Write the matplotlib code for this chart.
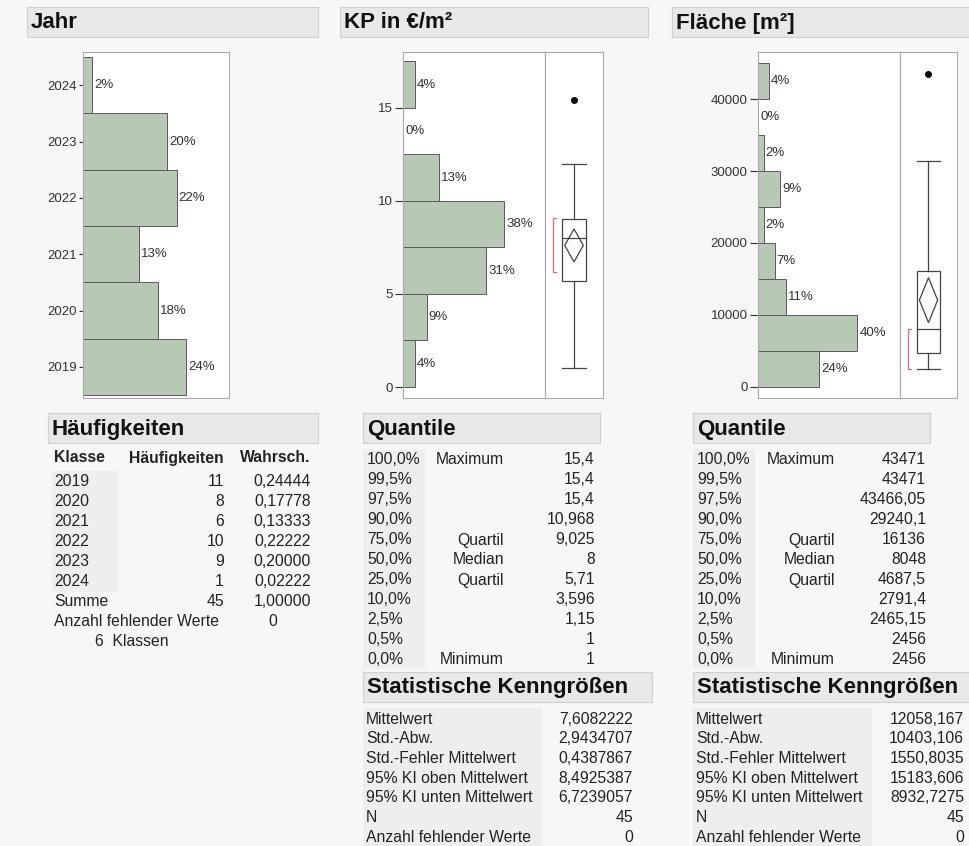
import matplotlib
matplotlib.use('Agg')
import matplotlib.pyplot as plt
from matplotlib.patches import Rectangle, Polygon

plt.rcParams['font.family'] = ['Liberation Sans', 'DejaVu Sans']

W, H = 970, 846
GREEN = '#b7c9b5'
FRAME = '#a8a8a8'
TXT = '#222222'

# ---------------- data ----------------
years = ['2019', '2020', '2021', '2022', '2023', '2024']
year_counts = [11, 8, 6, 10, 9, 1]
n_missing = 0

kp_edges = [0, 2.5, 5, 7.5, 10, 12.5, 15, 17.5]
kp_counts = [2, 4, 14, 17, 6, 0, 2]
kp_box = [1, 5.71, 8, 9.025, 12.0]          # whisker lo, Q1, median, Q3, whisker hi
kp_outliers = [15.4]
kp_mean_ci = [7.6082222, 6.7239057, 8.4925387]
kp_short_half = [6.2, 9.1]

fl_edges = [0, 5000, 10000, 15000, 20000, 25000, 30000, 35000, 40000, 45000]
fl_counts = [11, 18, 5, 3, 1, 4, 1, 0, 2]
fl_box = [2456, 4687.5, 8048, 16136, 31400]
fl_outliers = [43471]
fl_mean_ci = [12058.167, 8932.7275, 15183.606]
fl_short_half = [2456, 8000]

q_levels = ['100,0%', '99,5%', '97,5%', '90,0%', '75,0%', '50,0%', '25,0%',
            '10,0%', '2,5%', '0,5%', '0,0%']
q_names = ['Maximum', '', '', '', 'Quartil', 'Median', 'Quartil', '', '', '', 'Minimum']
kp_quant = ['15,4', '15,4', '15,4', '10,968', '9,025', '8', '5,71', '3,596', '1,15', '1', '1']
fl_quant = ['43471', '43471', '43466,05', '29240,1', '16136', '8048', '4687,5',
            '2791,4', '2465,15', '2456', '2456']

stat_names = ['Mittelwert', 'Std.-Abw.', 'Std.-Fehler Mittelwert', '95% KI oben Mittelwert',
              '95% KI unten Mittelwert', 'N', 'Anzahl fehlender Werte']
kp_stats = ['7,6082222', '2,9434707', '0,4387867', '8,4925387', '6,7239057', '45', '0']
fl_stats = ['12058,167', '10403,106', '1550,8035', '15183,606', '8932,7275', '45', '0']

N = sum(year_counts)

fig = plt.figure(figsize=(9.7, 8.46), dpi=100, facecolor='#f7f7f7')

# background axes in pixel coordinates
bg = fig.add_axes([0, 0, 1, 1])
bg.set_xlim(0, W)
bg.set_ylim(H, 0)
bg.axis('off')


def ax_px(x0, y0, x1, y1):
    return fig.add_axes([x0 / W, 1 - y1 / H, (x1 - x0) / W, (y1 - y0) / H])


def header(x0, x1, y0, y1, text, tx=None):
    bg.add_patch(Rectangle((x0, y0), x1 - x0, y1 - y0, fc='#e8e8e8', ec='#d0d0d0', lw=0.8))
    bg.text(tx if tx else x0 + 4, (y0 + y1) / 2 + 1, text, fontsize=16, fontweight='bold',
            va='center', ha='left', color='#111111')


def shade(x0, x1, y0, y1):
    bg.add_patch(Rectangle((x0, y0), x1 - x0, y1 - y0, fc='#eeeeee', ec='none'))


def style(ax, length=5.5, pad=2):
    ax.set_facecolor('white')
    for s in ax.spines.values():
        s.set_color(FRAME)
        s.set_linewidth(0.8)
    ax.tick_params(axis='y', length=length, pad=pad, labelsize=9.5, colors='#333333',
                   width=0.8)
    ax.set_xticks([])


def hist_panel(rect, edges, counts, ylim, xmax, yticks):
    ax = ax_px(*rect)
    style(ax)
    bottoms = edges[:-1]
    heights = [b - a for a, b in zip(edges[:-1], edges[1:])]
    ax.barh(bottoms, counts, height=heights, align='edge', color=GREEN,
            edgecolor='#5a5a5a', linewidth=0.7)
    for b, h, c in zip(bottoms, heights, counts):
        ax.annotate(f'{round(100 * c / N)}%', xy=(c, b + h / 2), xytext=(1.5, 0),
                    textcoords='offset points', va='center', ha='left',
                    fontsize=9.5, color='#333333')
    ax.set_xlim(0, xmax)
    ax.set_ylim(*ylim)
    ax.set_yticks(yticks)
    return ax


def box_panel(rect, box, outliers, mean_ci, short, ylim):
    ax = ax_px(*rect)
    style(ax)
    ax.set_yticks([])
    ax.set_xlim(0, 1)
    ax.set_ylim(*ylim)
    lo, q1, med, q3, hi = box
    c, hw, lc = 0.5, 0.2, '#444444'
    ax.plot([c, c], [lo, q1], color=lc, lw=0.9)
    ax.plot([c, c], [q3, hi], color=lc, lw=0.9)
    ax.plot([c - hw, c + hw], [lo, lo], color=lc, lw=0.9)
    ax.plot([c - hw, c + hw], [hi, hi], color=lc, lw=0.9)
    ax.add_patch(Rectangle((c - hw, q1), 2 * hw, q3 - q1, fill=False, ec=lc, lw=0.9))
    ax.plot([c - hw, c + hw], [med, med], color=lc, lw=0.9)
    mean, cil, ciu = mean_ci
    dw = 0.16
    ax.add_patch(Polygon([(c, ciu), (c + dw, mean), (c, cil), (c - dw, mean)],
                         closed=True, fill=False, ec=lc, lw=0.9))
    ax.plot([c] * len(outliers), outliers, 'o', ms=4, color='black')
    bx = 0.14
    ax.plot([bx + 0.05, bx, bx, bx + 0.05], [short[1], short[1], short[0], short[0]],
            color='#e06a78', lw=0.9)
    return ax


# ---------------- top headers ----------------
header(27, 318, 7, 37, 'Jahr')
header(340, 648, 7, 37, 'KP in €/m²')
header(672, 970, 7, 37, 'Fläche [m²]')

# ---------------- Jahr bar chart ----------------
ax = ax_px(83, 52, 229, 398)
style(ax, length=3, pad=1.5)
pos = list(range(len(years)))
ax.barh(pos, year_counts, height=1, align='edge', color=GREEN,
        edgecolor='#5a5a5a', linewidth=0.7)
for p, cnt in zip(pos, year_counts):
    ax.annotate(f'{round(100 * cnt / N)}%', xy=(cnt, p + 0.5), xytext=(1.5, 0),
                textcoords='offset points', va='center', ha='left', fontsize=9.5,
                color='#333333')
ax.set_xlim(0, 15.6)
ax.set_ylim(-0.053, 6.09)
ax.set_yticks([p + 0.5 for p in pos])
ax.set_yticklabels(years)

# ---------------- KP histogram + box ----------------
kp_ylim = (-0.59, 18.0)
hist_panel((403, 52, 545, 398), kp_edges, kp_counts, kp_ylim, 23.9, [0, 5, 10, 15])
box_panel((545, 52, 603, 398), kp_box, kp_outliers, kp_mean_ci, kp_short_half, kp_ylim)

# ---------------- Fläche histogram + box ----------------
fl_ylim = (-1528, 46528)
hist_panel((758, 52, 900, 398), fl_edges, fl_counts, fl_ylim, 25.7,
           [0, 10000, 20000, 30000, 40000])
box_panel((900, 52, 957, 398), fl_box, fl_outliers, fl_mean_ci, fl_short_half, fl_ylim)

FS = 11.3

# ---------------- Häufigkeiten table ----------------
header(48, 318, 413, 443, 'Häufigkeiten', tx=52)
shade(52, 118, 471, 592)
bg.text(54, 458, 'Klasse', fontsize=FS, fontweight='bold', va='center', color=TXT)
bg.text(224, 458, 'Häufigkeiten', fontsize=FS, fontweight='bold', va='center',
        ha='right', color=TXT)
bg.text(310, 458, 'Wahrsch.', fontsize=FS, fontweight='bold', va='center', ha='right',
        color=TXT)
rows = list(zip(years, year_counts)) + [('Summe', N)]
for i, (lab, cnt) in enumerate(rows):
    y = 481 + 20.1 * i
    bg.text(54, y, lab, fontsize=FS, va='center', color=TXT)
    bg.text(224, y, str(cnt), fontsize=FS, va='center', ha='right', color=TXT)
    bg.text(311, y, f'{cnt / N:.5f}'.replace('.', ','), fontsize=FS, va='center',
            ha='right', color=TXT)
bg.text(54, 622, 'Anzahl fehlender Werte', fontsize=FS, va='center', color=TXT)
bg.text(273, 622, str(n_missing), fontsize=FS, va='center', ha='center', color=TXT)
bg.text(95, 642, f'{len(years)}  Klassen', fontsize=FS, va='center', color=TXT)


# ---------------- Quantile + Statistik tables ----------------
def quant_table(x0, x1, name_r, val_r, values):
    header(x0, x1, 413, 443, 'Quantile')
    shade(x0, x0 + 62, 450, 669)
    for i, (lv, nm, v) in enumerate(zip(q_levels, q_names, values)):
        y = 460 + 20 * i
        bg.text(x0 + 4, y, lv, fontsize=FS, va='center', color=TXT)
        bg.text(name_r, y, nm, fontsize=FS, va='center', ha='right', color=TXT)
        bg.text(val_r, y, v, fontsize=FS, va='center', ha='right', color=TXT)


def stat_table(x0, x1, shade_r, val_r, values):
    header(x0, x1, 672, 702, 'Statistische Kenngrößen')
    shade(x0, shade_r, 708, 846)
    for i, (nm, v) in enumerate(zip(stat_names, values)):
        y = 719 + 19.7 * i
        bg.text(x0 + 3, y, nm, fontsize=FS, va='center', color=TXT)
        bg.text(val_r, y, v, fontsize=FS, va='center', ha='right', color=TXT)


quant_table(363, 600, 504, 595, kp_quant)
stat_table(363, 652, 542, 633, kp_stats)
quant_table(693, 930, 835, 926, fl_quant)
stat_table(693, 970, 872, 964, fl_stats)

fig.savefig('out.png', dpi=100, facecolor=fig.get_facecolor())
